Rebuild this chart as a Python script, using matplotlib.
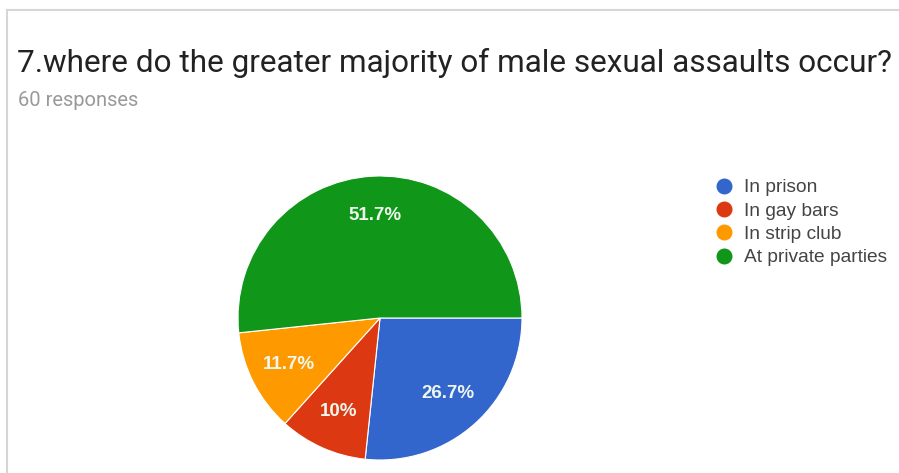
import matplotlib
matplotlib.use("Agg")
import matplotlib.pyplot as plt
from matplotlib.lines import Line2D

plt.rcParams['font.family'] = ['Roboto', 'DejaVu Sans']

title = "7.where do the greater majority of male sexual assaults occur?"
subtitle = "60 responses"
categories = ["In prison", "In gay bars", "In strip club", "At private parties"]
counts = [16, 6, 7, 31]
colors = ["#3366cc", "#dc3912", "#ff9900", "#109618"]

W, H = 899, 473
fig = plt.figure(figsize=(W / 100, H / 100), dpi=100)
ax = fig.add_axes([0, 0, 1, 1])


def fmt_pct(p):
    s = f"{p:.1f}"
    if s.endswith(".0"):
        s = s[:-2]
    return s + "%"


wedges, texts, autotexts = ax.pie(
    counts, colors=colors, startangle=0, counterclock=False,
    center=(380, H - 318), radius=142, frame=True,
    autopct=fmt_pct, pctdistance=0.72,
    wedgeprops=dict(edgecolor="white", linewidth=0.8),
    textprops=dict(color="white", fontsize=13.5, fontweight="bold",
                   family=['Liberation Sans', 'DejaVu Sans']),
)
for t in autotexts:
    t.set_color("#eef6ee")
ax.set_xlim(0, W)
ax.set_ylim(0, H)
ax.set_aspect("equal")
ax.axis("off")

# card border (top and left edges)
fig.add_artist(Line2D([7 / W, 1], [1 - 10 / H, 1 - 10 / H], color="#d6d6d6", lw=1.5))
fig.add_artist(Line2D([7 / W, 7 / W], [0, 1 - 10 / H], color="#d6d6d6", lw=1.5))

fig.text(17 / W, 1 - 63 / H, title, fontsize=22.7, color="#222222", va="center", ha="left")
fig.text(18 / W, 1 - 100 / H, subtitle, fontsize=14.5, color="#999999", va="center", ha="left")

handles = [Line2D([], [], marker="o", linestyle="none", markersize=10.5,
                  markerfacecolor=c, markeredgecolor=c) for c in colors]
leg = ax.legend(handles, categories, loc="upper left",
                bbox_to_anchor=(718 / W, 1 - 179 / H), bbox_transform=fig.transFigure,
                frameon=False, handlelength=0.6, handletextpad=0.75,
                labelspacing=0.31, borderaxespad=0, borderpad=0,
                prop=dict(family=['Liberation Sans', 'DejaVu Sans'], size=13.8))
for t in leg.get_texts():
    t.set_color("#444444")

fig.savefig("out.png", dpi=100, facecolor="white")
